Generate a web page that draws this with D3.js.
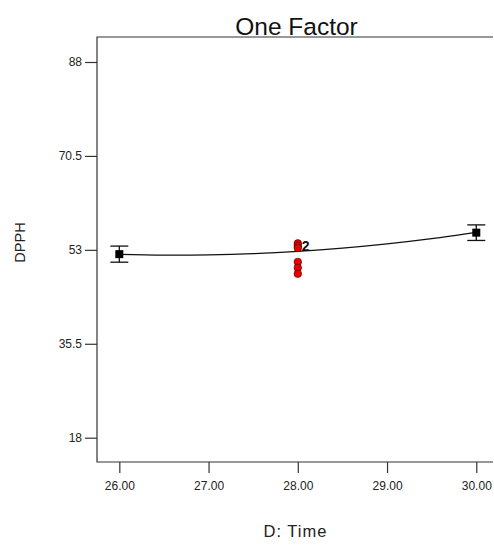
<!DOCTYPE html>
<html>
<head>
<meta charset="utf-8">
<script src="https://cdn.jsdelivr.net/npm/d3@7"></script>
<style>
  html, body { margin: 0; padding: 0; background: #fff; overflow: hidden; }
  svg { display: block; font-family: "Liberation Sans", Arial, sans-serif; }
</style>
</head>
<body>
<svg id="chart" width="494" height="550"></svg>
<script>
// ---- data ----
const title = "One Factor";
const xLabel = "D: Time";
const yLabel = "DPPH";
const xTicks = [26, 27, 28, 29, 30];
const yTicks = [18, 35.5, 53, 70.5, 88];
// factorial design points (mean with error bars)
const designX = [26, 30];
const designMean = [52.2, 56.2];
const designErr = [1.5, 1.45];
// center point replicates (actual observations)
const centerX = [28, 28, 28, 28, 28, 28];
const centerY = [54.2, 53.75, 53.35, 50.75, 49.65, 48.55];
const centerLabel = "2";
// fitted model curve
const curveX = [26, 26.5, 27, 27.5, 28, 28.5, 29, 29.5, 30];
const curveY = [52.16, 52.02, 52.07, 52.30, 52.72, 53.33, 54.12, 55.09, 56.26];

// ---- layout ----
const svg = d3.select("#chart");
const plotL = 97, plotR = 498.6, plotT = 37, plotB = 462, lineEnd = 493;
const x = d3.scaleLinear().domain([25.75, 30.25]).range([plotL, plotR]);
const y = d3.scaleLinear().domain([18, 88]).range([437.7, 62]);
const ink = "#222";

// frame: top and bottom lines run to the window edge, as in the reference
svg.append("path")
  .attr("d", `M${lineEnd},${plotT}H${plotL}V${plotB}H${lineEnd}`)
  .attr("fill", "none").attr("stroke", "#333").attr("stroke-width", 1.2);

// axes
const xAxis = d3.axisBottom(x).tickValues(xTicks).tickFormat(d3.format(".2f"))
  .tickSize(11).tickSizeOuter(0).tickPadding(8);
const gx = svg.append("g").attr("transform", `translate(0,${plotB})`).call(xAxis);
gx.select(".domain").remove();
gx.selectAll("line").attr("stroke", "#333").attr("stroke-width", 1.2);
gx.selectAll("text").attr("font-size", 12).attr("fill", ink);

const yAxis = d3.axisLeft(y).tickValues(yTicks).tickFormat(d => String(d))
  .tickSize(12).tickSizeOuter(0).tickPadding(3);
const gy = svg.append("g").attr("transform", `translate(${plotL},0)`).call(yAxis);
gy.select(".domain").remove();
gy.selectAll("line").attr("stroke", "#333").attr("stroke-width", 1.2);
gy.selectAll("text").attr("font-size", 12).attr("fill", ink);

// titles
svg.append("text").attr("x", 296.5).attr("y", 34.5).attr("text-anchor", "middle")
  .attr("font-size", 24.5).attr("fill", "#111").text(title);
svg.append("text").attr("x", 295.5).attr("y", 536.5).attr("text-anchor", "middle")
  .attr("font-size", 16.5).attr("letter-spacing", 1).attr("fill", ink).text(xLabel);
svg.append("text").attr("transform", "translate(25,242.5) rotate(-90)")
  .attr("text-anchor", "middle").attr("font-size", 14.5).attr("fill", ink).text(yLabel);

// fitted curve
const line = d3.line().x((d, i) => x(curveX[i])).y(d => y(d)).curve(d3.curveNatural);
svg.append("path").datum(curveY).attr("d", line)
  .attr("fill", "none").attr("stroke", "#111").attr("stroke-width", 1.3);

// error bars
const eb = svg.append("g");
designX.forEach((dx, i) => {
  const cx = x(dx), y1 = y(designMean[i] + designErr[i]), y2 = y(designMean[i] - designErr[i]);
  eb.append("line").attr("x1", cx).attr("x2", cx).attr("y1", y1).attr("y2", y2)
    .attr("stroke", "#111").attr("stroke-width", 1.3);
  [y1, y2].forEach(yy => eb.append("line").attr("x1", cx - 9).attr("x2", cx + 9)
    .attr("y1", yy).attr("y2", yy).attr("stroke", "#111").attr("stroke-width", 1.3));
  eb.append("rect").attr("x", cx - 4).attr("y", y(designMean[i]) - 4)
    .attr("width", 8).attr("height", 8).attr("fill", "#000");
});

// center points
svg.append("g").selectAll("circle").data(centerY).join("circle")
  .attr("cx", (d, i) => x(centerX[i])).attr("cy", d => y(d)).attr("r", 3.8)
  .attr("fill", "#e00").attr("stroke", "#400").attr("stroke-width", 0.6);
svg.append("text").attr("x", x(28) + 4).attr("y", y(centerY[1]) + 5)
  .attr("font-size", 14).attr("font-weight", "bold").attr("fill", "#111").text(centerLabel);
</script>
</body>
</html>
